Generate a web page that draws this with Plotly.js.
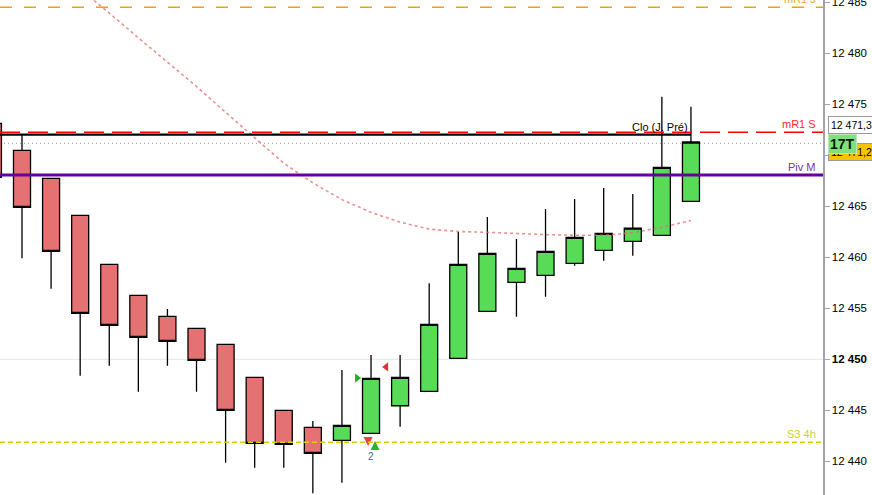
<!DOCTYPE html>
<html>
<head>
<meta charset="utf-8">
<script src="https://cdn.plot.ly/plotly-3.0.1.min.js"></script>
<style>html,body{margin:0;padding:0;background:#fff;}#chart{width:872px;height:495px;}</style>
</head>
<body>
<div id="chart"></div>
<script>
// Candle index positions
const idx   = [0,1,2,3,4,5,6,7,8,9,10,11,12,13,14,15,16,17,18,19,20,21,22,23,24];
const open  = [12473.13,12470.48,12467.74,12464.11,12459.30,12456.26,12454.21,12453.03,12451.46,12448.23,12444.99,12443.32,12442.05,12442.74,12445.44,12446.85,12450.09,12454.70,12457.54,12458.23,12459.40,12460.68,12461.56,12462.15,12465.48];
const high  = [12473.13,12471.98,12467.74,12464.11,12459.30,12456.26,12454.92,12453.03,12451.46,12448.23,12444.99,12443.94,12448.94,12450.41,12450.41,12457.44,12462.47,12463.94,12461.78,12464.73,12465.71,12466.78,12466.20,12475.74,12474.75];
const low   = [12467.83,12459.89,12456.91,12448.38,12449.36,12446.81,12449.36,12446.81,12439.85,12439.36,12439.36,12436.85,12437.89,12442.74,12443.38,12446.85,12450.09,12454.70,12454.17,12456.13,12459.17,12459.66,12460.15,12462.15,12465.48];
const close = [12467.83,12464.89,12460.58,12454.50,12453.32,12452.15,12451.75,12449.89,12444.99,12441.75,12441.66,12440.77,12443.52,12448.13,12448.23,12453.42,12459.30,12460.38,12458.91,12460.58,12461.95,12462.34,12462.86,12468.81,12471.30];

// Moving average (pink dotted curve)
const maIdx = [3,4,5,6,7,8,9,10,11,12,13,14,15,16,17,18,19,20,21,22,23,24];
const maVal = [12486.29,12483.95,12481.51,12479.12,12476.74,12474.21,12471.73,12469.22,12467.29,12465.65,12464.40,12463.44,12462.76,12462.52,12462.44,12462.32,12462.22,12462.16,12462.15,12462.42,12462.93,12463.60];

// Horizontal levels
const levelNames  = ["mR1 J","mR1 S","Piv M","S3 4h"];
const levelValues = [12484.5,12472.25,12468.06,12441.85];
const prevClose = 12472.03;      // "Clo (J. Pré)"
const prevCloseLabel = "Clo (J. Pré)";
const lastMark = 12471.17;       // grey dotted
const roundLevel = 12450;        // grey grid line

// Y axis ticks
const tickVals = [12440,12445,12450,12455,12460,12465,12470,12475,12480,12485];
const tickText = ["12 440","12 445","<b>12 450</b>","12 455","12 460","12 465","12 470","12 475","12 480","12 485"];

// Signal markers
const sigRightX = [12.52], sigRightY = [12448.16];
const sigLeftX  = [13.52], sigLeftY  = [12449.24];
const arrDownX  = [12.90], arrDownY  = [12441.49];
const arrUpX    = [13.14], arrUpY    = [12441.98];
const countX = 13.0, countY = 12440.5, countText = "2";

// Price tags
const tagLast = "12 471,3", tagTicks = "17T", tagBid = "12 471,2";

const SANS = 'Liberation Sans, Arial';
const X0 = 0.2435, X1 = 28.54;
const traces = [
  {type:'scatter', mode:'lines', x:maIdx, y:maVal, hoverinfo:'skip',
   line:{color:'rgba(228,105,105,0.75)', width:1.6, dash:'3px,3px'}},
  {type:'candlestick', x:idx, open:open, high:high, low:low, close:close, hoverinfo:'skip',
   increasing:{fillcolor:'#58dc58', line:{color:'#000', width:1.3}},
   decreasing:{fillcolor:'#e57272', line:{color:'#000', width:1.3}},
   whiskerwidth:0},
  {type:'scatter', mode:'markers', x:sigRightX, y:sigRightY, hoverinfo:'skip',
   marker:{symbol:'triangle-right', size:8, color:'#22b022'}},
  {type:'scatter', mode:'markers', x:sigLeftX, y:sigLeftY, hoverinfo:'skip',
   marker:{symbol:'triangle-left', size:8, color:'#e03030'}},
  {type:'scatter', mode:'markers', x:arrDownX, y:arrDownY, hoverinfo:'skip',
   marker:{symbol:'arrow-down', size:9, color:'#e84040'}},
  {type:'scatter', mode:'markers', x:arrUpX, y:arrUpY, hoverinfo:'skip',
   marker:{symbol:'arrow-up', size:9, color:'#30b030'}}
];

const levelColors = ['#f5a000','#ff0000','#660099','#d6d200'];
const levelDash   = ['12px,12px','20px,8px','solid','5px,3px'];
const levelWidth  = [1.5,1.5,3,1.5];
const labelColors = ['#f5a623','#ff2a2a','#7a2fb0','#d6cf20'];

const shapes = [
  {type:'line', xref:'x', yref:'y', x0:X0, x1:X1, y0:roundLevel, y1:roundLevel, line:{color:'#e6e6e6', width:1}, layer:'below'},
  {type:'line', xref:'x', yref:'y', x0:X0, x1:X1, y0:lastMark, y1:lastMark, line:{color:'#a0a0a0', width:1, dash:'1px,3px'}, layer:'below'},
  {type:'line', xref:'x', yref:'y', x0:X0, x1:24, y0:prevClose, y1:prevClose, line:{color:'#000', width:2.2}}
];
levelValues.forEach((v,i)=>{
  shapes.push({type:'line', xref:'x', yref:'y', x0:X0, x1:X1, y0:v, y1:v,
    line:{color:levelColors[i], width:levelWidth[i], dash:levelDash[i]}});
});

const annotations = [];
levelValues.forEach((v,i)=>{
  annotations.push({xref:'paper', yref:'y', x:818/823, y:v, xanchor:'right', yanchor:'bottom',
    yshift:0, text:levelNames[i], showarrow:false, font:{size:11, color:labelColors[i], family:SANS}});
});
annotations.push({xref:'x', yref:'y', x:22.94, y:prevClose, xanchor:'center', yanchor:'bottom', yshift:0,
  text:prevCloseLabel, showarrow:false, font:{size:11, color:'#000', family:SANS}});
annotations.push({xref:'x', yref:'y', x:countX, y:countY, text:countText, showarrow:false,
  font:{size:10, color:'#4a5f9a', family:SANS}});
// Price tags on the axis
annotations.push({xref:'paper', yref:'y', x:828/823, y:close[close.length-1], xanchor:'left', yanchor:'middle', yshift:17,
  text:tagLast+'   ', showarrow:false, bgcolor:'#ffffff', bordercolor:'#9a9a9a', borderwidth:1, borderpad:2,
  align:'left', font:{size:10.5, color:'#000', family:SANS}});
annotations.push({xref:'paper', yref:'y', x:828/823, y:lastMark, xanchor:'left', yanchor:'middle', yshift:-9,
  text:tagBid+'   ', showarrow:false, bgcolor:'#f4c400', bordercolor:'#9a9a9a', borderwidth:1, borderpad:2,
  align:'left', font:{size:10.5, color:'#000', family:SANS}});
annotations.push({xref:'paper', yref:'y', x:828/823, y:lastMark, xanchor:'left', yanchor:'middle', yshift:-1,
  text:'<b>'+tagTicks+'</b>', showarrow:false, bgcolor:'#80e080', bordercolor:'#b8e8b8', borderwidth:1, borderpad:1,
  align:'left', font:{size:14, color:'#0a1a0a', family:SANS}});

const layout = {
  width:872, height:495,
  margin:{l:0, r:49, t:0, b:0, pad:0},
  paper_bgcolor:'#fff', plot_bgcolor:'#fff',
  showlegend:false,
  font:{family:SANS, size:12, color:'#000'},
  boxgap:0.415, boxgroupgap:0,
  xaxis:{range:[X0,X1], visible:false, showgrid:false, zeroline:false, rangeslider:{visible:false}, fixedrange:true},
  yaxis:{range:[12436.69,12485.22], side:'right', showgrid:false, zeroline:false,
    showline:true, linecolor:'#a0a4a8', linewidth:1.5, ticks:'outside', ticklen:5, tickcolor:'#a0a4a8', tickwidth:1,
    ticklabeloverflow:'allow',
    tickvals:tickVals, ticktext:tickText, tickfont:{size:11.5, color:'#000', family:SANS}, fixedrange:true},
  shapes:shapes, annotations:annotations
};
Plotly.newPlot('chart', traces, layout, {displayModeBar:false, staticPlot:true});
</script>
</body>
</html>
